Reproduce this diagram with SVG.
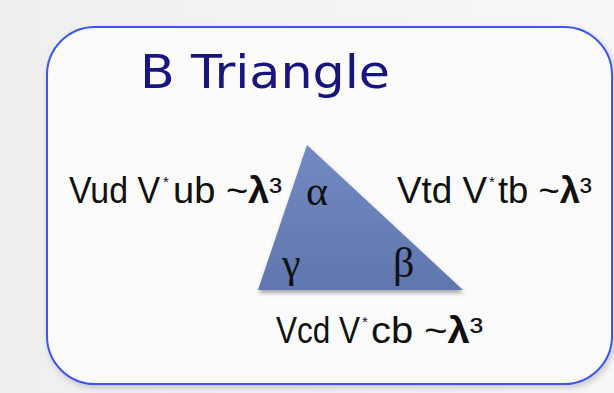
<svg xmlns="http://www.w3.org/2000/svg" width="614" height="393" viewBox="0 0 614 393">
<defs>
<linearGradient id="bg" x1="0" y1="0" x2="1" y2="0">
<stop offset="0" stop-color="#efefef"/>
<stop offset="1" stop-color="#f7f7f7"/>
</linearGradient>
<linearGradient id="tri" x1="0" y1="0" x2="0" y2="1">
<stop offset="0" stop-color="#7389c2"/>
<stop offset="1" stop-color="#5f76ae"/>
</linearGradient>
<filter id="boxShadow" x="-5%" y="-5%" width="115%" height="115%">
<feDropShadow dx="2" dy="3" stdDeviation="3" flood-color="#000" flood-opacity="0.18"/>
</filter>
<filter id="triShadow" x="-10%" y="-10%" width="125%" height="130%">
<feDropShadow dx="1" dy="3" stdDeviation="2" flood-color="#000" flood-opacity="0.35"/>
</filter>
<style>
.lbl{font-family:"Liberation Sans",Arial,sans-serif;font-size:36px;fill:#111;}
.star{font-family:"Liberation Sans",Arial,sans-serif;font-size:15px;fill:#111;}
.b{font-weight:bold;}
.greek{font-family:"Liberation Serif","DejaVu Serif",serif;font-size:42px;fill:#111;}
.title{font-family:"DejaVu Sans","Liberation Sans",sans-serif;font-size:46px;fill:#16167e;}
</style>
</defs>
<rect x="0" y="0" width="614" height="393" fill="url(#bg)"/>
<g id="frame">
<rect x="47" y="27" width="565" height="357" rx="48" ry="48" fill="#fbfbfb" stroke="#3d55f2" stroke-width="2" filter="url(#boxShadow)"/>
</g>
<g id="title">
<text class="title" x="140" y="88" textLength="250" lengthAdjust="spacingAndGlyphs">B Triangle</text>
</g>
<g id="triangle">
<polygon points="307,145 258,290 463,290" fill="url(#tri)" filter="url(#triShadow)"/>
<text class="greek" x="306" y="205">α</text>
<text class="greek" x="282" y="277">γ</text>
<text class="greek" x="393" y="277">β</text>
</g>
<g id="label-left">
<text class="lbl" x="69" y="203" textLength="91" lengthAdjust="spacingAndGlyphs">Vud V</text>
<text class="star" x="163" y="187">*</text>
<text class="lbl" x="173" y="203" textLength="109" lengthAdjust="spacingAndGlyphs">ub ~<tspan class="b">λ</tspan>³</text>
</g>
<g id="label-right">
<text class="lbl" x="397" y="203" textLength="90" lengthAdjust="spacingAndGlyphs">Vtd V</text>
<text class="star" x="489" y="187">*</text>
<text class="lbl" x="498" y="203" textLength="94" lengthAdjust="spacingAndGlyphs">tb ~<tspan class="b">λ</tspan>³</text>
</g>
<g id="label-bottom">
<text class="lbl" x="276" y="343" textLength="84" lengthAdjust="spacingAndGlyphs">Vcd V</text>
<text class="star" x="362" y="327">*</text>
<text class="lbl" x="371" y="343" textLength="112" lengthAdjust="spacingAndGlyphs">cb  ~<tspan class="b">λ</tspan>³</text>
</g>
</svg>
